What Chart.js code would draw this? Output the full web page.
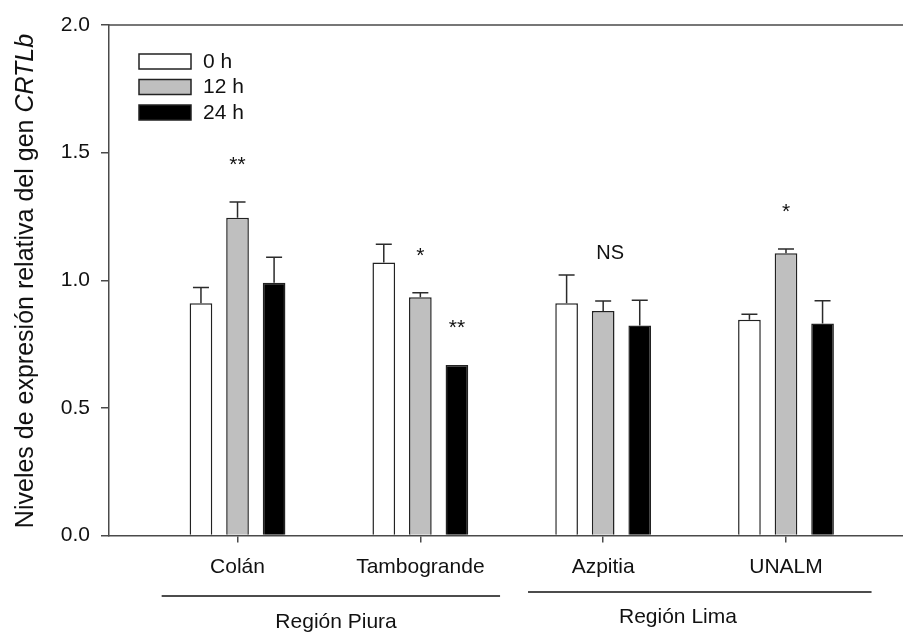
<!DOCTYPE html>
<html>
<head>
<meta charset="utf-8">
<script src="https://cdn.jsdelivr.net/npm/chart.js@4.4.1/dist/chart.umd.min.js"></script>
<style>
  html, body { margin: 0; padding: 0; background: #ffffff; }
  #wrap { width: 903px; height: 632px; }
</style>
</head>
<body>
<div id="wrap"><canvas id="c" width="903" height="632"></canvas></div>
<script>
// Relative CRTLb expression per locality and sampling time
const categories = ['Colán', 'Tambogrande', 'Azpitia', 'UNALM'];
const seriesNames = ['0 h', '12 h', '24 h'];
const values0h  = [0.91, 1.07, 0.91, 0.845];
const values12h = [1.245, 0.933, 0.88, 1.106];
const values24h = [0.99, 0.668, 0.823, 0.831];
const errors0h  = [0.062, 0.071, 0.111, 0.022];
const errors12h = [0.062, 0.018, 0.039, 0.016];
const errors24h = [0.10, 0, 0.099, 0.089];
const yTickValues = [0, 0.5, 1.0, 1.5, 2.0];
const regionNames = ['Región Piura', 'Región Lima'];
// significance marks above the 12 h and 24 h bars, and a note for the whole group
const marks12h = ['**', '*', '', '*'];
const marks24h = ['', '**', '', ''];
const groupNotes = ['', '', 'NS', ''];

const seriesValues = [values0h, values12h, values24h];
const seriesErrors = [errors0h, errors12h, errors24h];
const seriesMarks = [null, marks12h, marks24h];

const FONT = '"Liberation Sans", Arial, sans-serif';
const INK = '#111111';
const AXIS = '#4a4a4a';
const fills = ['#ffffff', '#bfbfbf', '#000000'];

// Upward error bars with caps
const errorBars = {
  id: 'errorBars',
  afterDatasetsDraw(chart) {
    const { ctx } = chart;
    const y = chart.scales.y;
    ctx.save();
    ctx.strokeStyle = '#2b2b2b';
    ctx.lineWidth = 1.5;
    chart.data.datasets.forEach((ds, di) => {
      const meta = chart.getDatasetMeta(di);
      meta.data.forEach((bar, i) => {
        const e = ds.errors[i];
        if (!e) return;
        const top = y.getPixelForValue(ds.data[i].y + e);
        ctx.beginPath();
        ctx.moveTo(bar.x, bar.y);
        ctx.lineTo(bar.x, top);
        ctx.moveTo(bar.x - 8, top);
        ctx.lineTo(bar.x + 8, top);
        ctx.stroke();
      });
    });
    ctx.restore();
  }
};

// Asterisks / NS, frame top line, region brackets, legend and the y title
const decorations = {
  id: 'decorations',
  afterDraw(chart) {
    const { ctx, chartArea } = chart;
    const x = chart.scales.x, y = chart.scales.y;
    ctx.save();

    // top frame line
    ctx.strokeStyle = AXIS;
    ctx.lineWidth = 1.5;
    ctx.beginPath();
    ctx.moveTo(chartArea.left, chartArea.top);
    ctx.lineTo(chartArea.right, chartArea.top);
    ctx.stroke();

    // significance marks
    ctx.fillStyle = INK;
    ctx.textAlign = 'center';
    ctx.textBaseline = 'alphabetic';
    ctx.font = '21px ' + FONT;
    chart.data.datasets.forEach((ds, di) => {
      const marks = seriesMarks[di];
      if (!marks) return;
      const meta = chart.getDatasetMeta(di);
      meta.data.forEach((bar, i) => {
        if (!marks[i]) return;
        const top = y.getPixelForValue(ds.data[i].y + (ds.errors[i] || 0));
        ctx.fillText(marks[i], bar.x, top - 31);
      });
    });
    ctx.font = '20px ' + FONT;
    ctx.textBaseline = 'middle';
    groupNotes.forEach((note, i) => {
      if (!note) return;
      let maxTop = 0;
      seriesValues.forEach((vals, s) => { maxTop = Math.max(maxTop, vals[i] + seriesErrors[s][i]); });
      ctx.fillText(note, x.getPixelForValue(i + 1) + 7, y.getPixelForValue(maxTop) - 21);
    });

    // region brackets under the category labels
    const spans = [[0.585, 2.436, 596, 1.539, 622], [2.589, 4.468, 592, 3.409, 617]];
    ctx.strokeStyle = '#111';
    ctx.lineWidth = 1.5;
    ctx.font = '21px ' + FONT;
    regionNames.forEach((name, r) => {
      const [a, b, ly, tx, ty] = spans[r];
      ctx.beginPath();
      ctx.moveTo(x.getPixelForValue(a), ly);
      ctx.lineTo(x.getPixelForValue(b), ly);
      ctx.stroke();
      ctx.fillText(name, x.getPixelForValue(tx), ty);
    });

    // legend
    ctx.textAlign = 'left';
    ctx.font = '21px ' + FONT;
    chart.data.datasets.forEach((ds, di) => {
      const top = 54 + di * 25.5;
      ctx.fillStyle = ds.backgroundColor;
      ctx.fillRect(139, top, 52, 15);
      ctx.strokeStyle = '#222';
      ctx.lineWidth = 1.5;
      ctx.strokeRect(139, top, 52, 15);
      ctx.fillStyle = INK;
      ctx.fillText(ds.label, 203, top + 8);
    });

    // y title with italic gene name
    const plain = 'Niveles de expresión relativa del gen ';
    const gene = 'CRTLb';
    ctx.translate(33, 281);
    ctx.rotate(-Math.PI / 2);
    ctx.textBaseline = 'alphabetic';
    ctx.font = '25px ' + FONT;
    const wa = ctx.measureText(plain).width;
    ctx.font = 'italic 25px ' + FONT;
    const wb = ctx.measureText(gene).width;
    const x0 = -(wa + wb) / 2;
    ctx.fillStyle = INK;
    ctx.font = '25px ' + FONT;
    ctx.fillText(plain, x0, 0);
    ctx.font = 'italic 25px ' + FONT;
    ctx.fillText(gene, x0 + wa, 0);

    ctx.restore();
  }
};

new Chart(document.getElementById('c'), {
  type: 'bar',
  data: {
    datasets: seriesNames.map((name, s) => ({
      label: name,
      data: seriesValues[s].map((v, i) => ({ x: i + 1, y: v })),
      errors: seriesErrors[s],
      backgroundColor: fills[s],
      borderColor: '#222222',
      borderWidth: 1.5,
      categoryPercentage: 0.6,
      barPercentage: 0.62
    }))
  },
  options: {
    responsive: false,
    animation: false,
    devicePixelRatio: 1,
    layout: { padding: { top: 25, left: 0, right: 0, bottom: 0 } },
    plugins: { legend: { display: false }, tooltip: { enabled: false } },
    scales: {
      x: {
        type: 'linear',
        min: 0.297,
        max: 4.64,
        offset: false,
        afterBuildTicks: s => { s.ticks = categories.map((_, i) => ({ value: i + 1 })); },
        afterFit: s => { s.height = 96.5; },
        ticks: {
          callback: v => categories[v - 1],
          font: { family: FONT, size: 21 },
          color: INK,
          padding: 12,
          autoSkip: false,
          maxRotation: 0
        },
        grid: { offset: false, drawOnChartArea: false, drawTicks: true, tickLength: 7, color: AXIS, lineWidth: 1.5 },
        border: { color: AXIS, width: 1.5 }
      },
      y: {
        min: 0,
        max: 2,
        afterBuildTicks: s => { s.ticks = yTickValues.map(v => ({ value: v })); },
        afterFit: s => { s.width = 109; },
        ticks: {
          callback: v => v.toFixed(1),
          font: { family: FONT, size: 21 },
          color: INK,
          padding: 11
        },
        grid: { drawOnChartArea: false, drawTicks: true, tickLength: 8, color: AXIS, lineWidth: 1.5 },
        border: { color: AXIS, width: 1.5 }
      }
    }
  },
  plugins: [errorBars, decorations]
});
</script>
</body>
</html>
